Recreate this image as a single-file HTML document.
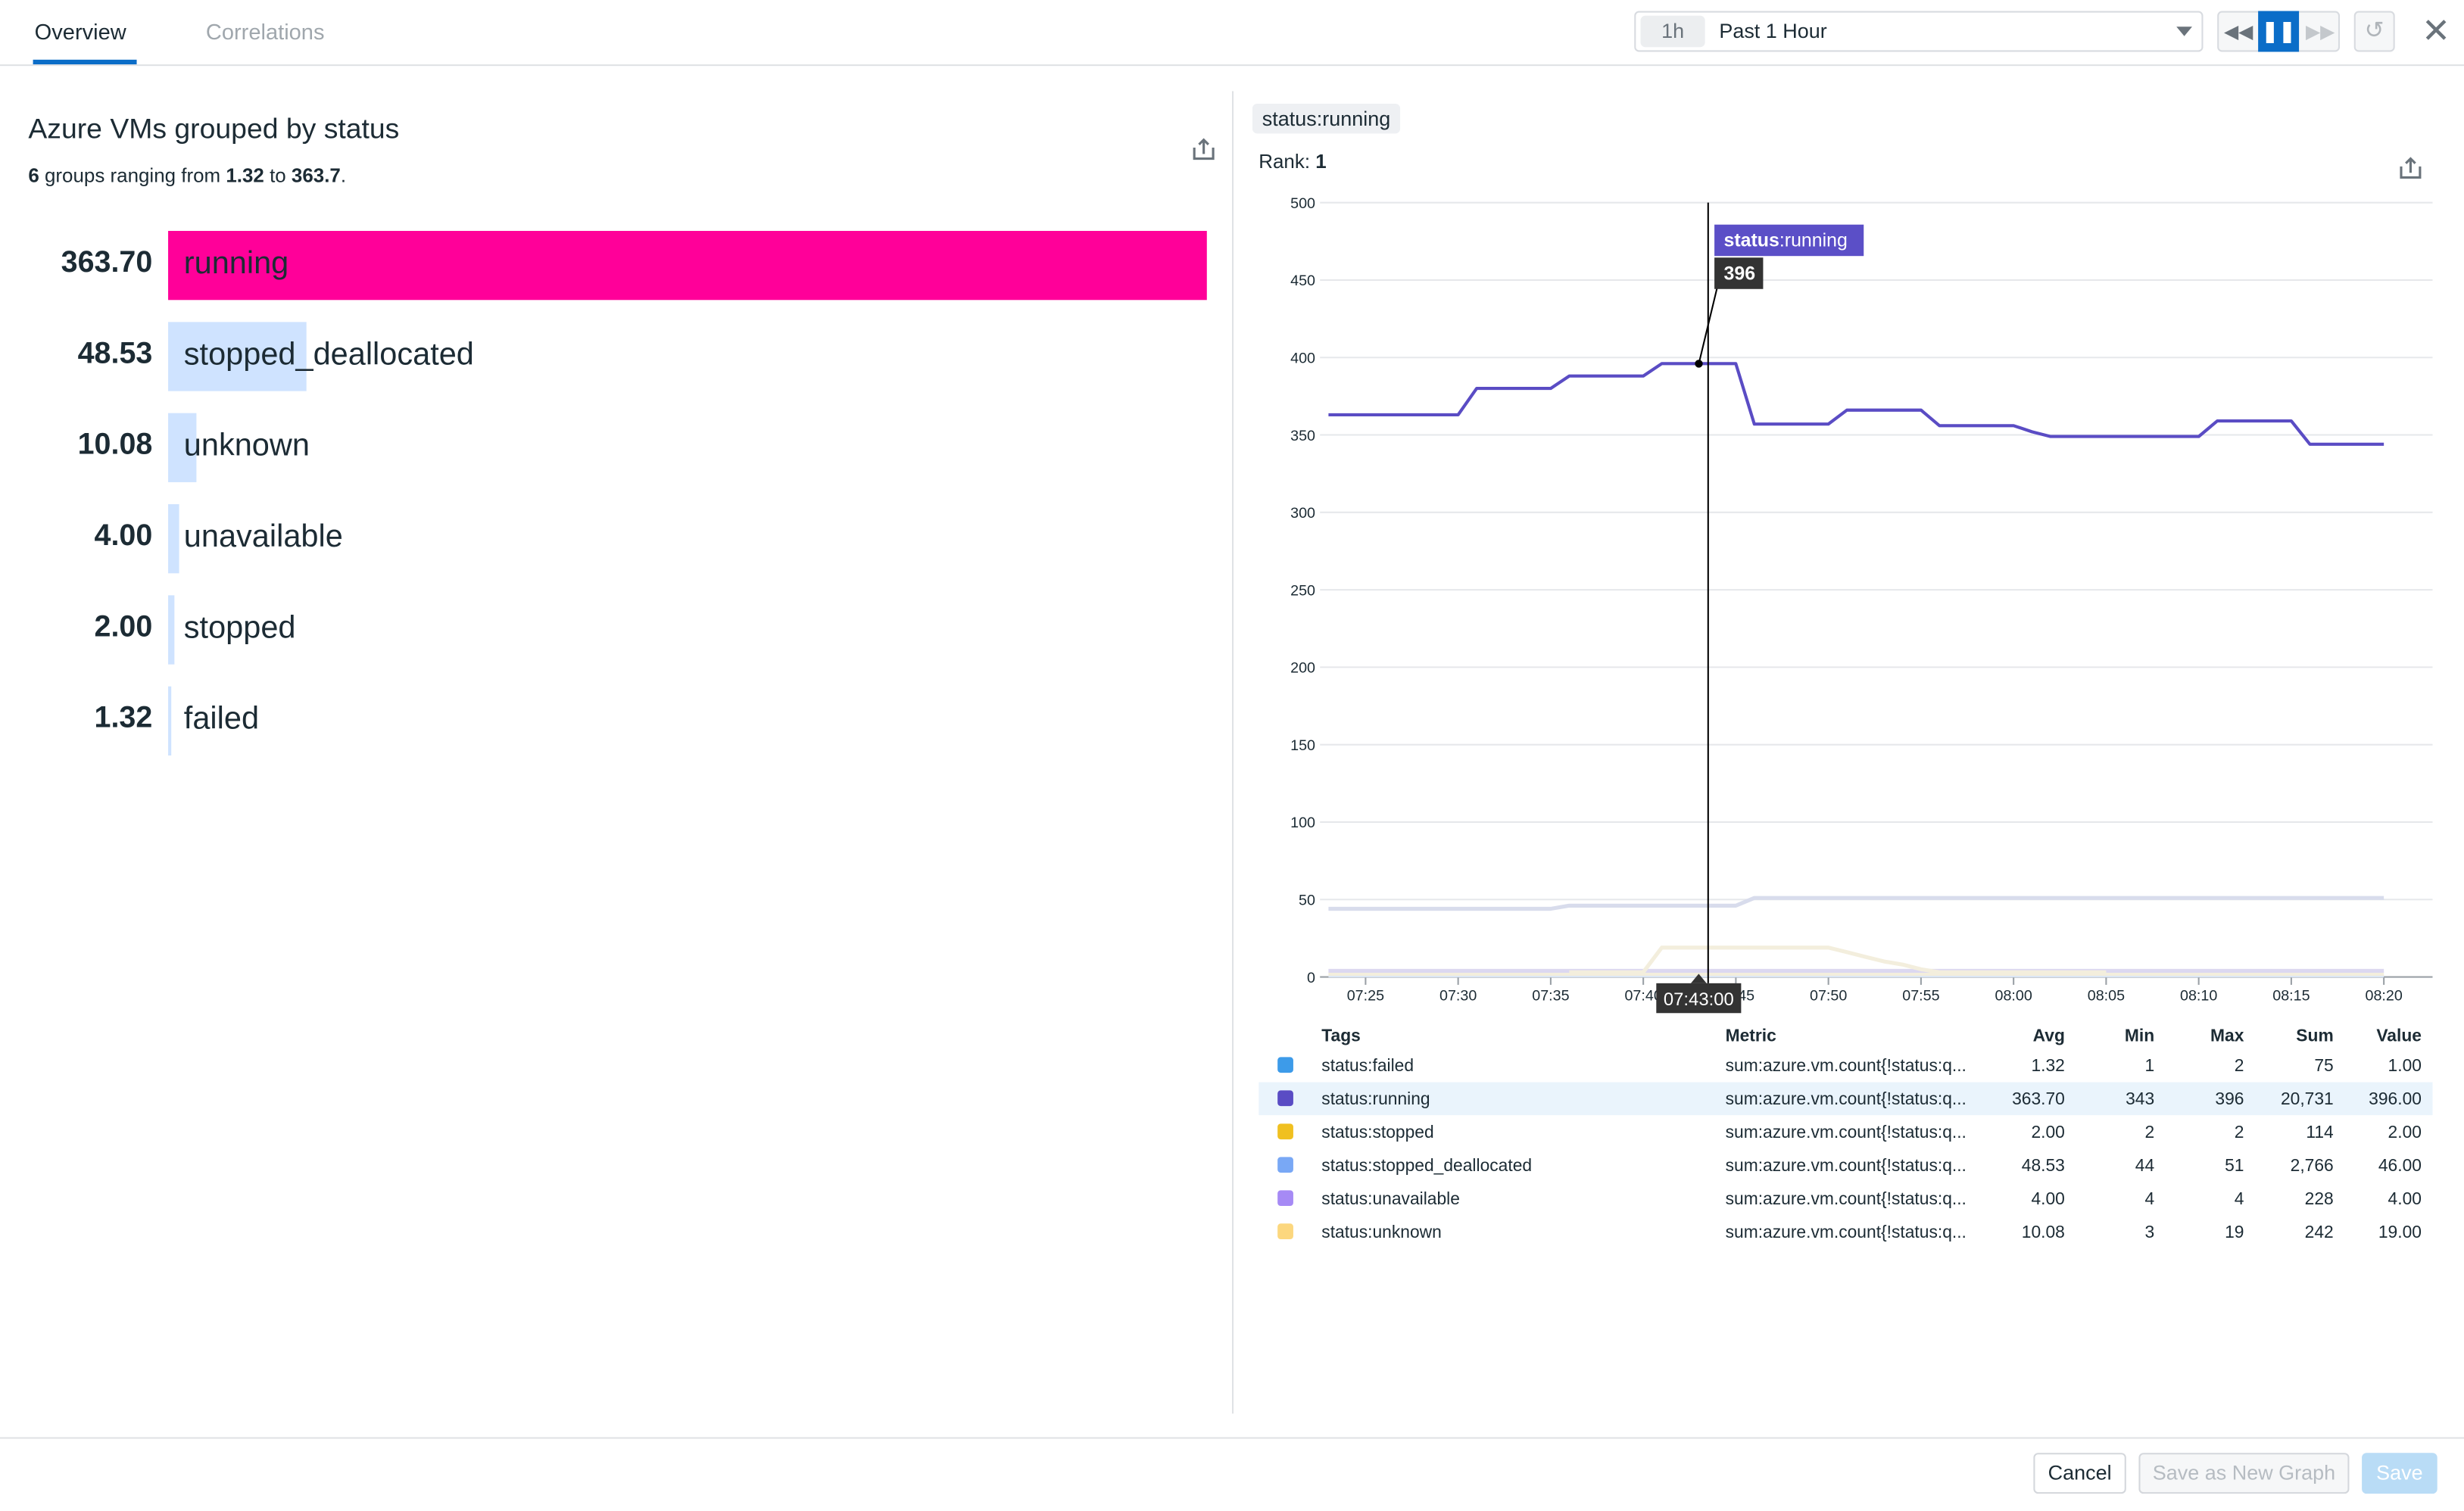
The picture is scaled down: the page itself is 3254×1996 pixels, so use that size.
<!DOCTYPE html>
<html><head><meta charset="utf-8"><style>
html,body{margin:0;padding:0;background:#fff;overflow:hidden}
body{width:3254px;height:1996px}
#root{position:absolute;left:0;top:0;width:1568px;height:962px;transform:scale(2.07525,2.07484);transform-origin:0 0;font-family:"Liberation Sans",sans-serif;color:#1c2b34}
.a{position:absolute;white-space:nowrap}
.btn{position:absolute;box-sizing:border-box;border:1px solid #d4d7dc;border-radius:3px;font-size:13px;text-align:center;line-height:24px}
.rowv{position:absolute;right:1471px;font-weight:bold;font-size:19px}
.bar{position:absolute;left:107px;height:44px}
.lab{position:absolute;left:117px;font-size:20px}
</style></head><body>
<div id="root">
<div class="a" style="left:22px;top:12px;font-size:14px;color:#1c2b34">Overview</div>
<div class="a" style="left:21px;top:38px;width:66px;height:3px;background:#0b6dc8"></div>
<div class="a" style="left:131px;top:12px;font-size:14px;color:#a0a7ad">Correlations</div>
<div class="a" style="left:0;top:41px;width:1568px;height:1px;background:#e0e2e5"></div>
<div class="a" style="left:1040px;top:7px;width:362px;height:26px;box-sizing:border-box;border:1px solid #d8dbe0;border-radius:3px"></div>
<div class="a" style="left:1044px;top:10px;width:41px;height:20px;background:#eceef0;border-radius:3px;font-size:13px;color:#6a737b;text-align:center;line-height:20px">1h</div>
<div class="a" style="left:1094px;top:12px;font-size:13px">Past 1 Hour</div>
<div class="a" style="left:1385px;top:17px;width:0;height:0;border-left:5px solid transparent;border-right:5px solid transparent;border-top:6px solid #6a737b"></div>
<div class="a" style="left:1411px;top:7px;width:78px;height:26px;box-sizing:border-box;border:1px solid #d8dbe0;border-radius:3px;background:#f6f7f8"></div>
<div class="a" style="left:1412px;top:8px;width:25px;height:24px;font-size:12px;color:#6a737b;text-align:center;line-height:24px">◀◀</div>
<div class="a" style="left:1437px;top:7px;width:26px;height:26px;background:#0b6dc8;color:#fff;text-align:center;line-height:26px;font-size:13px;font-weight:bold">❚❚</div>
<div class="a" style="left:1464px;top:8px;width:25px;height:24px;font-size:12px;color:#c4c8cc;text-align:center;line-height:24px">▶▶</div>
<div class="a" style="left:1498px;top:7px;width:26px;height:26px;box-sizing:border-box;border:1px solid #d8dbe0;border-radius:3px;background:#f6f7f8;color:#b0b5ba;text-align:center;line-height:24px;font-size:15px">↺</div>
<div class="a" style="left:1541px;top:8px;font-size:22px;color:#6a737b;line-height:24px">✕</div>

<div class="a" style="left:18px;top:72px;font-size:18px">Azure VMs grouped by status</div>
<div class="a" style="left:18px;top:105px;font-size:12.5px"><b>6</b> groups ranging from <b>1.32</b> to <b>363.7</b>.</div>
<svg class="a" style="left:758px;top:87px" width="16" height="16"><path d="M2,7 V14 H14 V7 M8,11 V2 M5,5 L8,2 L11,5" fill="none" stroke="#6a737b" stroke-width="1.5"/></svg>
<div id="toplist"></div>

<div class="a" style="left:784px;top:58px;width:1px;height:842px;background:#e0e2e5"></div>
<div class="a" style="left:797px;top:66px;width:94px;height:19px;background:#eef0f3;border-radius:3px;font-size:13px;line-height:19px;text-align:center">status:running</div>
<div class="a" style="left:801px;top:96px;font-size:12.5px">Rank: <b>1</b></div>
<svg class="a" style="left:1526px;top:99px" width="16" height="16"><path d="M2,7 V14 H14 V7 M8,11 V2 M5,5 L8,2 L11,5" fill="none" stroke="#6a737b" stroke-width="1.5"/></svg>

<svg class="a" style="left:0;top:0" width="1568" height="962" id="chart"></svg>

<div class="a" style="left:0;top:915px;width:1568px;height:1px;background:#e0e2e5"></div>
<div class="btn" style="left:1294px;top:925px;width:59px;height:26px;color:#1c2b34">Cancel</div>
<div class="btn" style="left:1361px;top:925px;width:134px;height:26px;color:#b6bcc2;background:#f6f7f8">Save as New Graph</div>
<div class="btn" style="left:1503px;top:925px;width:48px;height:26px;color:#fff;background:#b9dcf6;border-color:#b9dcf6">Save</div>
</div>
<script>
// ---- top list data ----
const tlNames=["running","stopped_deallocated","unknown","unavailable","stopped","failed"];
const tlValues=[363.70,48.53,10.08,4.00,2.00,1.32];
const tl=document.getElementById('toplist');
const tlMax=363.70, tlW=661;
tlNames.forEach((n,i)=>{
  const cy=169+i*58;
  const b=document.createElement('div');
  b.className='bar';
  
  
  b.style.top=(cy-22)+'px';
  b.style.width=Math.max(2,tlValues[i]/tlMax*tlW)+'px';
  b.style.background=i==0?'#ff0099':'#cfe3ff';
  tl.appendChild(b);
  const v=document.createElement('div');
  v.className='rowv';
  
  
  v.style.top=(cy-12)+'px';
  v.textContent=tlValues[i].toFixed(2);
  tl.appendChild(v);
  const l=document.createElement('div');
  l.className='lab';
  
  
  l.style.top=(cy-12)+'px';
  l.textContent=n;
  tl.appendChild(l);
});

// ---- timeseries data (per minute from 07:23 to 08:20) ----
const startMin=7*60+23;
const running=[363,363,363,363,363,363,363,363,380,380,380,380,380,388,388,388,388,388,396,396,396,396,396,357,357,357,357,357,366,366,366,366,366,356,356,356,356,356,352,349,349,349,349,349,349,349,349,349,359,359,359,359,359,344,344,344,344,344];
const stoppedDealloc=[44,44,44,44,44,44,44,44,44,44,44,44,44,46,46,46,46,46,46,46,46,46,46,51,51,51,51,51,51,51,51,51,51,51,51,51,51,51,51,51,51,51,51,51,51,51,51,51,51,51,51,51,51,51,51,51,51,51];
const unknown=[null,null,null,null,null,null,null,null,null,null,null,null,null,3,3,3,3,3,19,19,19,19,19,19,19,19,19,19,16,13,10,8,5,3,3,3,3,3,3,3,3,3,3,null,null,null,null,null,null,null,null,null,null,null,null,null,null,null];
const unavailable=new Array(58).fill(4);
const stopped=new Array(58).fill(2);
const failed=new Array(58).fill(1);
const yTicks=[0,50,100,150,200,250,300,350,400,450,500];
const xTickLabels=["07:25","07:30","07:35","07:40","07:45","07:50","07:55","08:00","08:05","08:10","08:15","08:20"];
const tableTags=["status:failed","status:running","status:stopped","status:stopped_deallocated","status:unavailable","status:unknown"];
const tableAvg=["1.32","363.70","2.00","48.53","4.00","10.08"];
const tableMin=["1","343","2","44","4","3"];
const tableMax=["2","396","2","51","4","19"];
const tableSum=["75","20,731","114","2,766","228","242"];
const tableValue=["1.00","396.00","2.00","46.00","4.00","19.00"];
const tableColors=["#3d9be9","#5a4cc4","#f0c020","#79a8f5","#a68af5","#fcd77e"];

const svg=document.getElementById('chart');
const NS='http://www.w3.org/2000/svg';
function X(min){return 869+(min-(7*60+25))*(648/55);}
function Y(v){return 622-v*(493/500);}
function mk(tag,attrs,name,inter){const e=document.createElementNS(NS,tag);for(const k in attrs)e.setAttribute(k,attrs[k]);


svg.appendChild(e);return e;}
yTicks.forEach(t=>{
  mk('line',{x1:840,x2:1548,y1:Y(t),y2:Y(t),stroke:t==0?'#9aa0a6':'#e6e8eb','stroke-width':1},'y-gridline-'+t,false);
  const tx=mk('text',{x:837,y:Y(t)+3.5,'text-anchor':'end','font-size':'9.5','fill':'#1c2b34','font-family':'Liberation Sans, sans-serif'},'y-tick-label-'+t,false);
  tx.textContent=t;
});
xTickLabels.forEach((l,i)=>{
  const m=7*60+25+i*5;
  mk('line',{x1:X(m),x2:X(m),y1:622,y2:627,stroke:'#9aa0a6','stroke-width':1},'x-tick-'+l,false);
  const tx=mk('text',{x:X(m),y:637,'text-anchor':'middle','font-size':'9.5','fill':'#1c2b34','font-family':'Liberation Sans, sans-serif'},'x-tick-label-'+l,false);
  tx.textContent=l;
});
function drawSeries(arr,color,w,name){
  let d='',pen=false;
  arr.forEach((v,i)=>{if(v===null){pen=false;return;}d+=(pen?'L':'M')+X(startMin+i).toFixed(1)+','+Y(v).toFixed(1);pen=true;});
  mk('path',{d:d,fill:'none',stroke:color,'stroke-width':w,'stroke-linejoin':'round'},name,true);
}
drawSeries(failed,'#dbe6f5',2.5,'series-failed');
drawSeries(stopped,'#f3eedd',2.5,'series-stopped');
drawSeries(unavailable,'#dcd8f0',2.5,'series-unavailable');
drawSeries(unknown,'#f3eedd',2.5,'series-unknown');
drawSeries(stoppedDealloc,'#d8dcec',2.5,'series-stopped-deallocated');
drawSeries(running,'#5a4cc4',2,'series-running');
// cursor
const cm=7*60+43, cv=running[cm-startMin];
mk('line',{x1:1087,x2:1087,y1:129,y2:626,stroke:'#000','stroke-width':1},'hover-cursor-line',false);
mk('line',{x1:X(cm),y1:Y(cv),x2:1093,y2:182,stroke:'#000','stroke-width':1},'tooltip-leader',false);
mk('circle',{cx:X(cm),cy:Y(cv),r:2.5,fill:'#000'},'hover-point',false);
mk('rect',{x:1091,y:143,width:95,height:20,fill:'#5b4fc7'},'tooltip-series-box',false);
let t=mk('text',{x:1097,y:157,'font-size':'12','fill':'#fff','font-family':'Liberation Sans, sans-serif'},'tooltip-series-label',false);
t.innerHTML='<tspan font-weight="bold">status</tspan>:running';
mk('rect',{x:1091,y:164,width:31,height:20,fill:'#333'},'tooltip-value-box',false);
t=mk('text',{x:1097,y:178,'font-size':'12','font-weight':'bold','fill':'#fff','font-family':'Liberation Sans, sans-serif'},'tooltip-value',false);
t.textContent=cv;
mk('path',{d:'M1076,626 L1081,620 L1086,626 Z',fill:'#333'},'time-label-pointer',false);
mk('rect',{x:1054,y:626,width:54,height:19,fill:'#333'},'time-label-box',false);
t=mk('text',{x:1081,y:640,'text-anchor':'middle','font-size':'11.5','fill':'#fff','font-family':'Liberation Sans, sans-serif'},'time-label',false);
t.textContent='07:43:00';
// table
mk('rect',{x:801,y:689,width:747,height:21,fill:'#eaf4fc'},'legend-row-highlight',false);
const hdr=[['Tags',841,'start'],['Metric',1098,'start'],['Avg',1314,'end'],['Min',1371,'end'],['Max',1428,'end'],['Sum',1485,'end'],['Value',1541,'end']];
hdr.forEach(h=>{t=mk('text',{x:h[1],y:663,'text-anchor':h[2],'font-size':'11','font-weight':'bold','fill':'#1c2b34','font-family':'Liberation Sans, sans-serif'},'legend-header-'+h[0].toLowerCase(),false);t.textContent=h[0];});
tableTags.forEach((tag,i)=>{
  const y=682+i*21.2;
  mk('rect',{x:813,y:y-9,width:10,height:10,rx:2,fill:tableColors[i]},'legend-swatch-'+tag.split(':')[1],true);
  const cols=[[tag,841,'start'],['sum:azure.vm.count{!status:q...',1098,'start'],[tableAvg[i],1314,'end'],[tableMin[i],1371,'end'],[tableMax[i],1428,'end'],[tableSum[i],1485,'end'],[tableValue[i],1541,'end']];
  cols.forEach((c,j)=>{t=mk('text',{x:c[1],y:y,'text-anchor':c[2],'font-size':'11','fill':'#1c2b34','font-family':'Liberation Sans, sans-serif'},'legend-cell-'+tag.split(':')[1]+'-'+j,j==0);t.textContent=c[0];});
});
</script>
</body></html>
